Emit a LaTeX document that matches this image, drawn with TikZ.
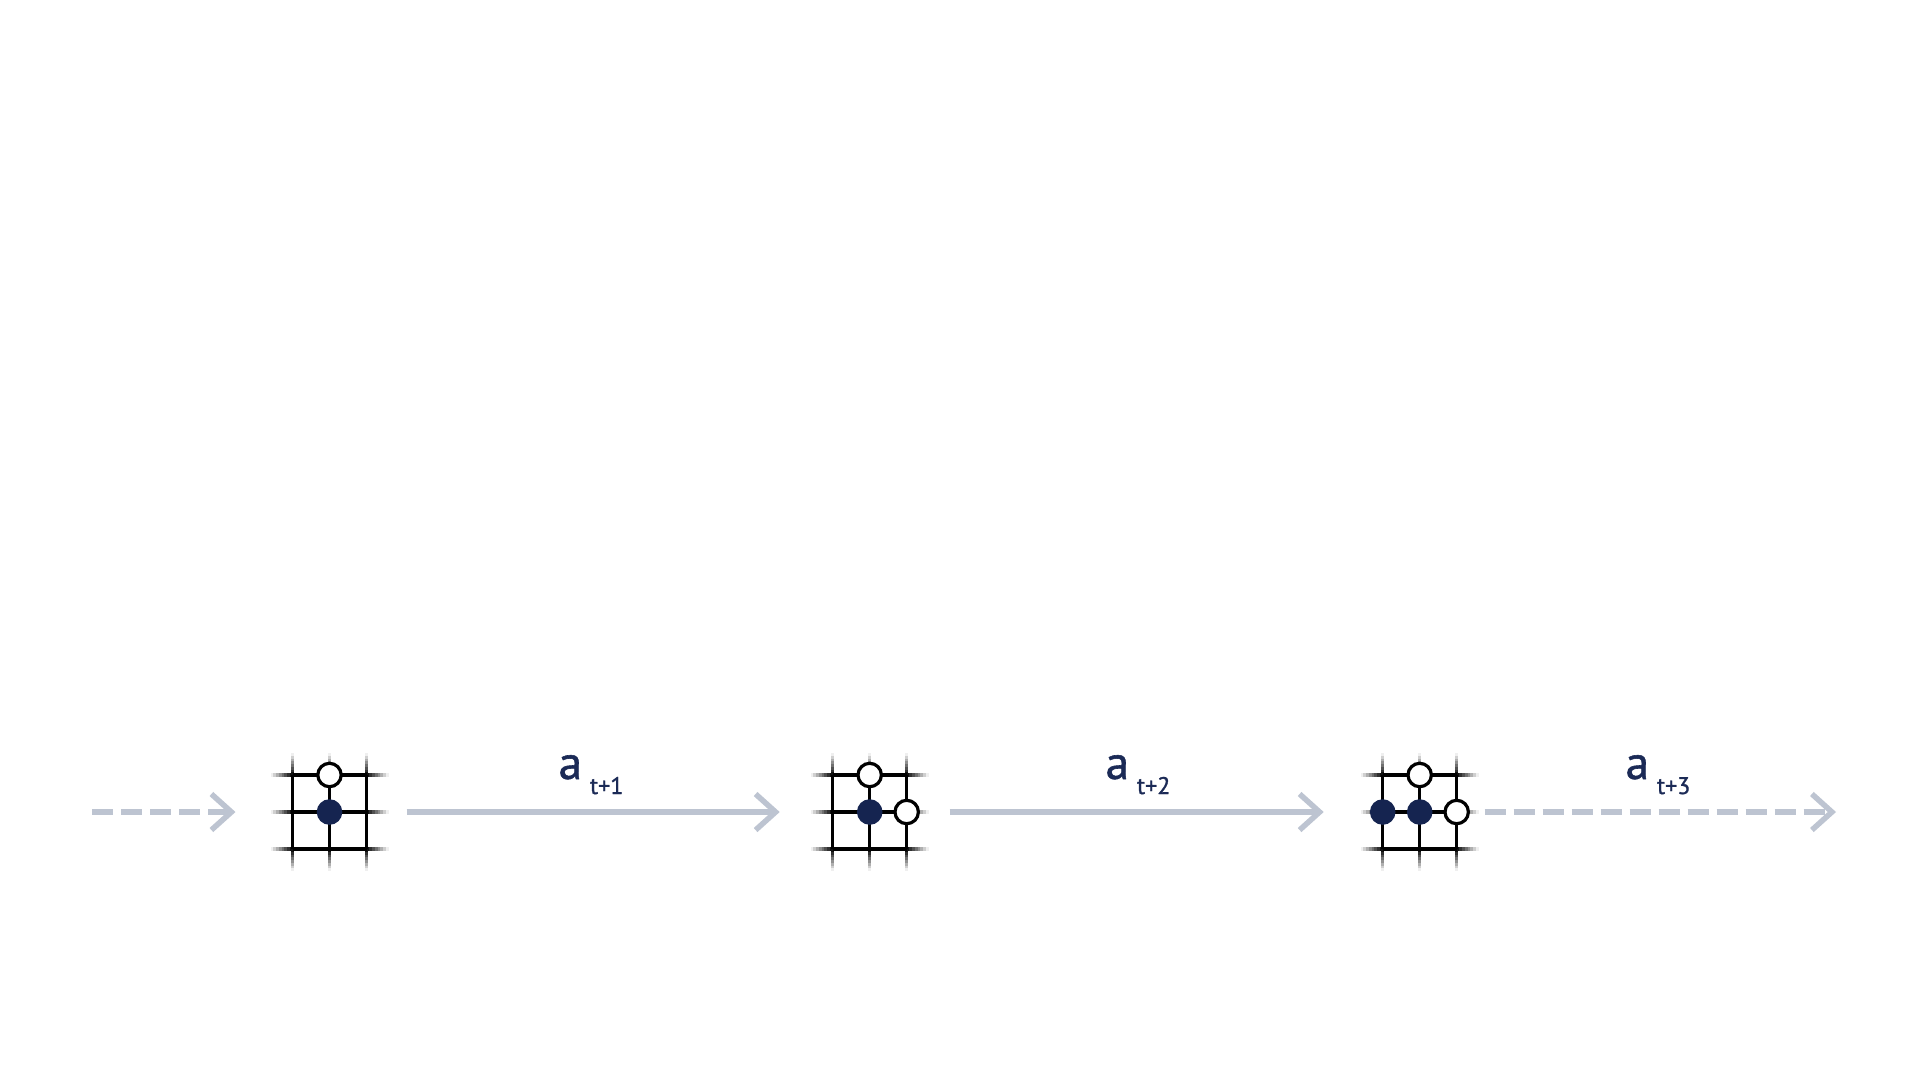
\documentclass[tikz,border=0pt]{standalone}
\usepackage{fontspec}
\setmainfont{PT Sans}
\newfontfamily\lblfont[FakeBold=1.2]{PT Sans}
\usetikzlibrary{arrows.meta}
\definecolor{arrowc}{HTML}{BDC4D1}
\definecolor{navy}{HTML}{1B2A56}
\definecolor{stonec}{HTML}{152450}
\tikzset{
  gl/.style={line width=3.4pt, line cap=butt},
  glm/.style={line width=4.6pt, line cap=butt},
  wstone/.style={draw=black, fill=white, line width=3.2pt},
  bstone/.style={fill=stonec},
  boardbox/.style={minimum size=118pt, inner sep=0pt, outer sep=0pt},
  flow/.style={draw=arrowc, line width=5.5pt, line cap=butt,
    -{Straight Barb[length=20pt, width=36pt]}},
  flowd/.style={flow, dash pattern=on 21pt off 8pt},
  lbl/.style={anchor=base, text=navy, inner sep=0pt, font=\lblfont\fontsize{47}{52}\selectfont},
}
\newcommand\sublbl[1]{\hspace{8pt}\raisebox{-15pt}{\fontsize{24}{27}\selectfont #1}}
\newcommand\gridboard[1]{%
  \begin{scope}[shift={(#1.center)}]
    % fading extensions
    \foreach \v in {-37,0,37} {
      \ifnum\v=0 \def\ls{glm}\else\def\ls{gl}\fi
      \foreach \i [evaluate=\i as \op using {100-(\i+0.5)*100/8}] in {0,...,7} {
        \draw[gl, draw=black!\op] ({\v},{-37-\i*2.75}) -- ({\v},{-37-(\i+1)*2.75});
        \draw[gl, draw=black!\op] ({\v},{37+\i*2.75}) -- ({\v},{37+(\i+1)*2.75});
        \draw[\ls, draw=black!\op] ({-37-\i*2.75},{\v}) -- ({-37-(\i+1)*2.75},{\v});
        \draw[\ls, draw=black!\op] ({37+\i*2.75},{\v}) -- ({37+(\i+1)*2.75},{\v});
      }
    }
    % grid
    \foreach \v in {-37,0,37} {\draw[gl] (\v,-37) -- (\v,37);}
    \draw[gl] (-37,-37) -- (37,-37);
    \draw[glm] (-37,0) -- (37,0);
    \draw[gl] (-37,37) -- (37,37);
  \end{scope}}
\begin{document}
\begin{tikzpicture}[x=1pt,y=-1pt]
\fill[white] (0,0) rectangle (1920,1080);
\useasboundingbox (0,0) rectangle (1920,1080);

% boards
\node[boardbox] (b1) at (329.5,812) {};
\node[boardbox] (b2) at (869.7,812) {};
\node[boardbox] (b3) at (1419.7,812) {};
\gridboard{b1}
\gridboard{b2}
\gridboard{b3}

% stones
\begin{scope}[shift={(b1.center)}]
  \draw[wstone] (0,-37) circle[radius=11.7pt];
  \fill[bstone] (0,0) circle[radius=12.8pt];
\end{scope}
\begin{scope}[shift={(b2.center)}]
  \draw[wstone] (0,-37) circle[radius=11.7pt];
  \fill[bstone] (0,0) circle[radius=12.8pt];
  \draw[wstone] (37,0) circle[radius=11.7pt];
\end{scope}
\begin{scope}[shift={(b3.center)}]
  \draw[wstone] (0,-37) circle[radius=11.7pt];
  \fill[bstone] (-37,0) circle[radius=12.8pt];
  \fill[bstone] (0,0) circle[radius=12.8pt];
  \draw[wstone] (37,0) circle[radius=11.7pt];
\end{scope}

% connectors
\coordinate (start) at (92,812);
\coordinate (finish) at (1836,812);
\draw[flowd, shorten >=35pt] (start) -- (b1.west);
\draw[flow, shorten <=18pt, shorten >=31pt] (b1.east) -- (b2.west);
\draw[flow, shorten <=21pt, shorten >=37pt] (b2.east) -- (b3.west);
\draw[flowd, shorten <=6pt] (b3.east) -- (finish);

% labels
\node[lbl] (l1) at (591,779) {a\sublbl{t+1}};
\node[lbl] (l2) at (1138,779) {a\sublbl{t+2}};
\node[lbl] (l3) at (1658,779) {a\sublbl{t+3}};
\end{tikzpicture}
\end{document}
